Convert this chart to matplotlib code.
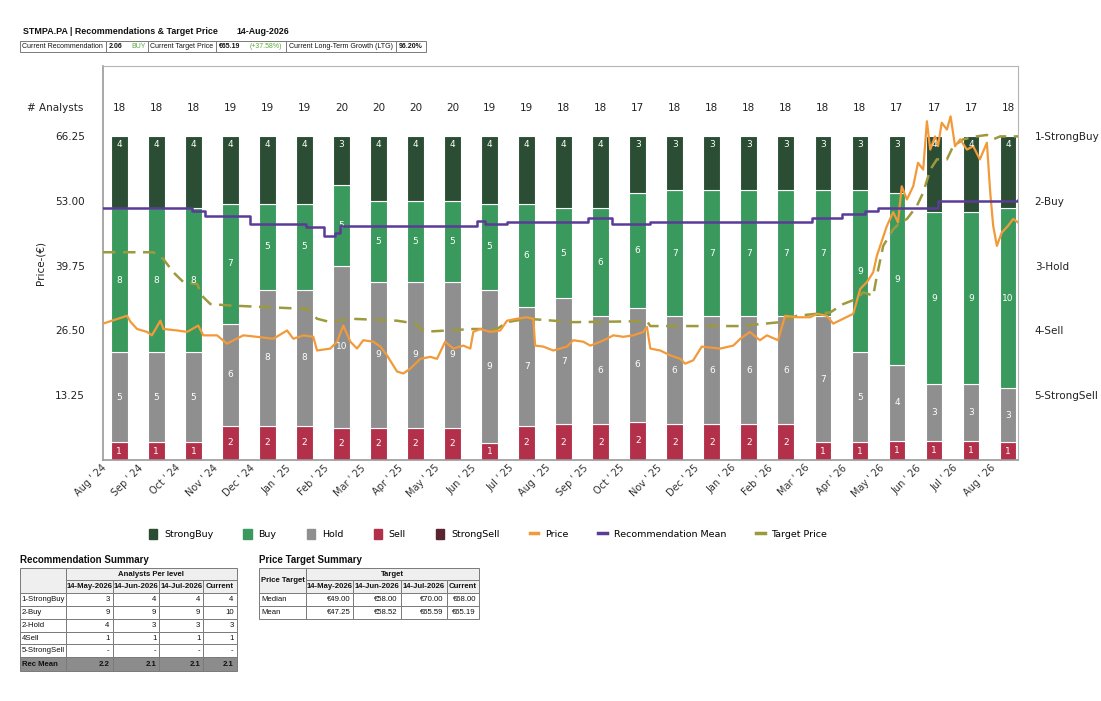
import numpy as np
import matplotlib.pyplot as plt
from matplotlib.patches import Rectangle, Patch
from matplotlib.lines import Line2D
from matplotlib.transforms import ScaledTranslation

# ---- data ----
months = ["Aug ' 24", "Sep ' 24", "Oct ' 24", "Nov ' 24", "Dec ' 24", "Jan ' 25", "Feb ' 25",
          "Mar ' 25", "Apr ' 25", "May ' 25", "Jun ' 25", "Jul ' 25", "Aug ' 25", "Sep ' 25",
          "Oct ' 25", "Nov ' 25", "Dec ' 25", "Jan ' 26", "Feb ' 26", "Mar ' 26", "Apr ' 26",
          "May ' 26", "Jun ' 26", "Jul ' 26", "Aug ' 26"]
strong_buy = [4, 4, 4, 4, 4, 4, 3, 4, 4, 4, 4, 4, 4, 4, 3, 3, 3, 3, 3, 3, 3, 3, 4, 4, 4]
buy = [8, 8, 8, 7, 5, 5, 5, 5, 5, 5, 5, 6, 5, 6, 6, 7, 7, 7, 7, 7, 9, 9, 9, 9, 10]
hold = [5, 5, 5, 6, 8, 8, 10, 9, 9, 9, 9, 7, 7, 6, 6, 6, 6, 6, 6, 7, 5, 4, 3, 3, 3]
sell = [1, 1, 1, 2, 2, 2, 2, 2, 2, 2, 1, 2, 2, 2, 2, 2, 2, 2, 2, 1, 1, 1, 1, 1, 1]
strong_sell = [0] * 25

# price (x in month-index units)
price_x = [-0.44, 0.21, 0.30, 0.48, 0.75, 0.88, 1.11, 1.19, 1.56, 1.83, 2.13, 2.27, 2.64, 2.91,
           3.35, 3.72, 4.16, 4.53, 4.70, 4.97, 5.24, 5.34, 5.70, 5.88, 6.05, 6.24, 6.42, 6.59,
           6.86, 7.05, 7.23, 7.50, 7.67, 7.86, 8.13, 8.40, 8.58, 8.80, 9.02, 9.29, 9.48, 9.56,
           9.75, 10.02, 10.29, 10.47, 10.74, 11.01, 11.18, 11.23, 11.45, 11.72, 12.09, 12.26,
           12.53, 12.72, 12.99, 13.17, 13.34, 13.61, 13.88, 14.15, 14.25, 14.34, 14.61, 14.88,
           15.15, 15.28, 15.50, 15.73, 15.96, 16.23, 16.58, 16.77, 17.03, 17.30, 17.49, 17.79,
           17.98, 18.30, 18.66, 18.84, 19.11, 19.28, 19.55, 19.82, 20.01, 20.19, 20.36, 20.46,
           20.73, 20.90, 21.03, 21.13, 21.27, 21.44, 21.57, 21.71, 21.81, 21.90, 22.03, 22.11,
           22.21, 22.35, 22.45, 22.57, 22.71, 22.89, 23.06, 23.24, 23.43, 23.52, 23.60, 23.70,
           23.83, 24.00, 24.14, 24.27]
price = [27.9, 29.5, 28.3, 26.8, 26.2, 25.5, 28.5, 26.8, 26.5, 26.2, 27.5, 25.5, 25.5, 23.8,
         25.5, 25.2, 24.8, 26.5, 24.8, 25.5, 25.2, 22.4, 22.8, 24.2, 27.5, 24.2, 22.8, 24.5,
         24.2, 23.2, 21.4, 18.1, 17.7, 18.7, 20.7, 21.1, 20.7, 24.2, 22.8, 23.4, 22.8, 26.2,
         26.8, 26.2, 26.5, 28.5, 28.9, 29.2, 28.9, 23.4, 23.2, 22.4, 23.2, 24.5,
         24.2, 23.4, 24.2, 24.8, 25.5, 25.2, 25.5, 26.2, 27.2, 22.8, 22.4, 21.4,
         20.7, 19.7, 20.4, 23.2, 23.0, 22.8, 23.4, 24.8, 26.2, 24.5, 25.5, 24.5,
         29.5, 29.2, 29.2, 29.9, 29.5, 27.9, 28.9, 29.9, 35.0, 36.4, 38.4, 41.8,
         47.9, 50.7, 48.6, 56.0, 53.3, 56.0, 60.8, 59.4, 69.3, 63.5, 66.2, 64.2,
         69.0, 67.6, 70.3, 64.2, 65.6, 63.5, 64.2, 61.5, 64.9, 54.7, 47.9, 43.8,
         46.5, 47.9, 49.3, 48.6]

target_x = [-0.44, 0.92, 1.19, 1.46, 1.73, 2.10, 2.27, 2.46, 3.00, 3.89, 5.07, 5.34, 5.70, 6.24,
            7.50, 8.00, 8.13, 8.40, 9.56, 10.20, 10.47, 11.01, 12.26, 14.25, 14.34, 16.77, 17.85,
            18.30, 19.20, 19.55, 19.92, 20.09, 20.36, 20.46, 20.63, 20.90, 21.09, 21.27, 21.54,
            21.71, 21.90, 22.08, 22.35, 22.52, 22.79, 23.15, 23.43, 23.60, 23.79, 24.27]
target = [42.5, 42.5, 41.1, 38.4, 36.4, 36.0, 33.3, 31.9, 31.6, 31.3, 30.9, 28.9, 28.2, 28.9,
          28.5, 27.9, 26.8, 26.3, 26.8, 26.8, 28.2, 28.9, 28.2, 28.4, 27.4, 27.4, 28.2,
          29.5, 30.2, 31.9, 33.0, 34.3, 33.6, 37.7, 43.8, 47.2, 48.6, 49.3, 52.0,
          54.7, 59.4, 61.5, 61.5, 64.2, 65.6, 66.2, 66.5, 65.6, 66.2, 66.2]

rec_x = [-0.44, 1.95, 2.32, 3.54, 5.05, 5.52, 5.83, 5.97, 9.67, 9.88, 10.47, 12.66, 13.30,
         14.34, 18.70, 19.51, 20.14, 20.49, 22.11, 24.27]
rec_mean = [2.11, 2.16, 2.24, 2.36, 2.41, 2.54, 2.49, 2.38, 2.31, 2.36, 2.32, 2.26, 2.35,
            2.32, 2.27, 2.20, 2.16, 2.11, 2.00, 1.99]

y_ticks = [13.25, 26.50, 39.75, 53.00, 66.25]
rating_labels = ['1-StrongBuy', '2-Buy', '3-Hold', '4-Sell', '5-StrongSell']

summary_cols = ['14-May-2026', '14-Jun-2026', '14-Jul-2026', 'Current']
summary_rows = ['1-StrongBuy', '2-Buy', '2-Hold', '4Sell', '5-StrongSell']
summary_vals = [['3', '4', '4', '4'], ['9', '9', '9', '10'], ['4', '3', '3', '3'],
                ['1', '1', '1', '1'], ['-', '-', '-', '-']]
summary_mean = ['2.2', '2.1', '2.1', '2.1']
target_rows = ['Median', 'Mean']
target_vals = [['€49.00', '€58.00', '€70.00', '€68.00'], ['€47.25', '€58.52', '€65.59', '€65.19']]

c_sb, c_b, c_h, c_s, c_ss = '#2a4d34', '#3a9a5e', '#8f8f8f', '#b3304b', '#5a2431'
c_price, c_rec, c_tgt = '#f29a3a', '#5b3b98', '#9d9a3e'

fig = plt.figure(figsize=(11.01, 7.01), dpi=100)
ax = fig.add_axes([103 / 1101, 1 - 460 / 701, 915 / 1101, 394 / 701])

x = np.arange(len(months))
tot = np.array(strong_buy) + np.array(buy) + np.array(hold) + np.array(sell) + np.array(strong_sell)
full = 66.25
bw = 0.45
bottom = np.zeros(len(x))
for counts, col in [(strong_sell, c_ss), (sell, c_s), (hold, c_h), (buy, c_b), (strong_buy, c_sb)]:
    h = np.array(counts) / tot * full
    ax.bar(x, h, bw, bottom=bottom, color=col, edgecolor='white', linewidth=0.8, zorder=2)
    for i in range(len(x)):
        if counts[i] == 0:
            continue
        if col == c_sb:
            ax.annotate(str(counts[i]), (x[i], bottom[i] + h[i]), xytext=(0, -8),
                        textcoords='offset pixels', ha='center', va='center',
                        color='white', fontsize=6.5, zorder=6)
        else:
            ax.text(x[i], bottom[i] + h[i] / 2, str(counts[i]), ha='center', va='center',
                    color='white', fontsize=6.5, zorder=6)
    bottom = bottom + h

ax.plot(target_x, target, color=c_tgt, lw=1.8, dashes=(5, 3), zorder=3)
ax.plot(price_x, price, color=c_price, lw=1.6, zorder=4)

ax.set_xlim(-0.44, 24.27)
ax.set_ylim(0, 80.6)
ax.set_yticks(y_ticks)
ax.set_yticklabels([f'{v:.2f}' for v in y_ticks])
ax.set_xticks(x)
ax.set_xticklabels(months, rotation=45, ha='right', va='top')
ax.tick_params(axis='y', length=0, pad=13, labelsize=7.5, labelcolor='#222222')
ax.tick_params(axis='x', length=0, pad=2, labelsize=7, labelcolor='#333333')
for lbl in ax.get_xticklabels():
    lbl.set_transform(lbl.get_transform() + ScaledTranslation(-0.11, 0, fig.dpi_scale_trans))
ax.set_ylabel('Price-(€)', fontsize=7.5, labelpad=7, color='#222222')
for s in ['top', 'right']:
    ax.spines[s].set_color('#b5b5b5')
for s in ['left', 'bottom']:
    ax.spines[s].set_color('#9a9a9a')
    ax.spines[s].set_linewidth(1.2)

for i in range(len(x)):
    ax.text(x[i], 72.1, str(tot[i]), ha='center', va='center', fontsize=7.5, color='#222222')
ax.annotate('# Analysts', xy=(0, 72.1), xycoords=('axes fraction', 'data'), xytext=(-20, 0),
            textcoords='offset pixels', ha='right', va='center', fontsize=7.5, color='#222222')

ax2 = ax.twinx()
ax2.plot(rec_x, rec_mean, color=c_rec, lw=1.8, drawstyle='steps-post', zorder=5)
ax2.set_ylim(6, 6 - 80.6 / 13.25)
ax2.set_yticks([1, 2, 3, 4, 5])
ax2.set_yticklabels(rating_labels)
ax2.tick_params(axis='y', length=0, pad=12, labelsize=7.5, labelcolor='#222222')
for s in ax2.spines.values():
    s.set_visible(False)
ax.set_zorder(1)
ax2.set_zorder(2)
ax2.patch.set_visible(False)

handles = [Patch(color=c_sb), Patch(color=c_b), Patch(color=c_h), Patch(color=c_s), Patch(color=c_ss),
           Line2D([], [], color=c_price, lw=2.5), Line2D([], [], color=c_rec, lw=2.5),
           Line2D([], [], color=c_tgt, lw=2.5)]
names = ['StrongBuy', 'Buy', 'Hold', 'Sell', 'StrongSell', 'Price', 'Recommendation Mean', 'Target Price']
fig.legend(handles, names, loc='center', bbox_to_anchor=(488 / 1101, 1 - 534 / 701), ncol=8,
           frameon=False, fontsize=6.8, handlelength=0.9, handleheight=1.3, handletextpad=0.7,
           columnspacing=3.2)

# ---- header and summary tables (pixel coordinates) ----
lay = fig.add_axes([0, 0, 1, 1])
lay.set_xlim(0, 1101)
lay.set_ylim(701, 0)
lay.axis('off')
tf = 'Liberation Sans'


def cell(x0, y0, x1, y1, fc='white'):
    lay.add_patch(Rectangle((x0, y0), x1 - x0, y1 - y0, fc=fc, ec='#7a7a7a', lw=0.7))


def txt(xp, yp, s, ha='left', bold=False, color='#111111', size=5.6):
    lay.text(xp, yp, s, ha=ha, va='center', fontsize=size, family=tf,
             fontweight='bold' if bold else 'normal', color=color)


txt(23, 32, 'STMPA.PA | Recommendations & Target Price', bold=True, size=6.4)
txt(236, 32, '14-Aug-2026', bold=True, size=6.4)
hy0, hy1 = 41, 52
hdr = [(20, 106), (106, 148), (148, 216), (216, 286), (286, 396), (396, 426)]
for a, b in hdr:
    cell(a, hy0, b, hy1)
hm = (hy0 + hy1) / 2
hs = 5.0
txt(22, hm, 'Current Recommendation', size=hs)
txt(109, hm, '2.06', bold=True, size=hs)
txt(131, hm, 'BUY', color='#5aaa3a', size=hs)
txt(150, hm, 'Current Target Price', size=hs)
txt(219, hm, '€65.19', bold=True, size=hs)
txt(250, hm, '(+37.58%)', color='#5aaa3a', size=hs)
txt(289, hm, 'Current Long-Term Growth (LTG)', size=hs)
txt(399, hm, '96.20%', bold=True, size=hs)

# recommendation summary
txt(20, 560, 'Recommendation Summary', bold=True, size=7)
cx = [19.5, 65.7, 112.7, 159.3, 203.3, 236.7]
ry = [568, 580, 592.7, 605.7, 618.7, 631.7, 644.3, 657.3, 670.7]
hfc = '#efefef'
cell(cx[0], ry[0], cx[1], ry[2], hfc)
cell(cx[1], ry[0], cx[5], ry[1], hfc)
txt((cx[1] + cx[5]) / 2, (ry[0] + ry[1]) / 2, 'Analysts Per level', ha='center', bold=True)
for j, c in enumerate(summary_cols):
    cell(cx[j + 1], ry[1], cx[j + 2], ry[2], hfc)
    txt((cx[j + 1] + cx[j + 2]) / 2, (ry[1] + ry[2]) / 2, c, ha='center', bold=True)
for i, r in enumerate(summary_rows):
    ya, yb = ry[i + 2], ry[i + 3]
    cell(cx[0], ya, cx[1], yb)
    txt(cx[0] + 2, (ya + yb) / 2, r)
    for j, v in enumerate(summary_vals[i]):
        cell(cx[j + 1], ya, cx[j + 2], yb)
        txt(cx[j + 2] - 3, (ya + yb) / 2, v, ha='right')
ya, yb = ry[7], ry[8]
cell(cx[0], ya, cx[1], yb, '#8c8c8c')
txt(cx[0] + 2, (ya + yb) / 2, 'Rec Mean', bold=True)
for j, v in enumerate(summary_mean):
    cell(cx[j + 1], ya, cx[j + 2], yb, '#8c8c8c')
    txt(cx[j + 2] - 3, (ya + yb) / 2, v, ha='right', bold=True)

# price target summary
txt(259, 560, 'Price Target Summary', bold=True, size=7)
px = [259.3, 306, 353.3, 400.7, 446.7, 479]
cell(px[0], ry[0], px[1], ry[2], hfc)
txt((px[0] + px[1]) / 2, (ry[0] + ry[2]) / 2, 'Price Target', ha='center', bold=True)
cell(px[1], ry[0], px[5], ry[1], hfc)
txt((px[1] + px[5]) / 2, (ry[0] + ry[1]) / 2, 'Target', ha='center', bold=True)
for j, c in enumerate(summary_cols):
    cell(px[j + 1], ry[1], px[j + 2], ry[2], hfc)
    txt((px[j + 1] + px[j + 2]) / 2, (ry[1] + ry[2]) / 2, c, ha='center', bold=True)
for i, r in enumerate(target_rows):
    ya, yb = ry[i + 2], ry[i + 3]
    cell(px[0], ya, px[1], yb)
    txt(px[0] + 2, (ya + yb) / 2, r)
    for j, v in enumerate(target_vals[i]):
        cell(px[j + 1], ya, px[j + 2], yb)
        txt(px[j + 2] - 3, (ya + yb) / 2, v, ha='right')

fig.savefig('out.png', dpi=100)
